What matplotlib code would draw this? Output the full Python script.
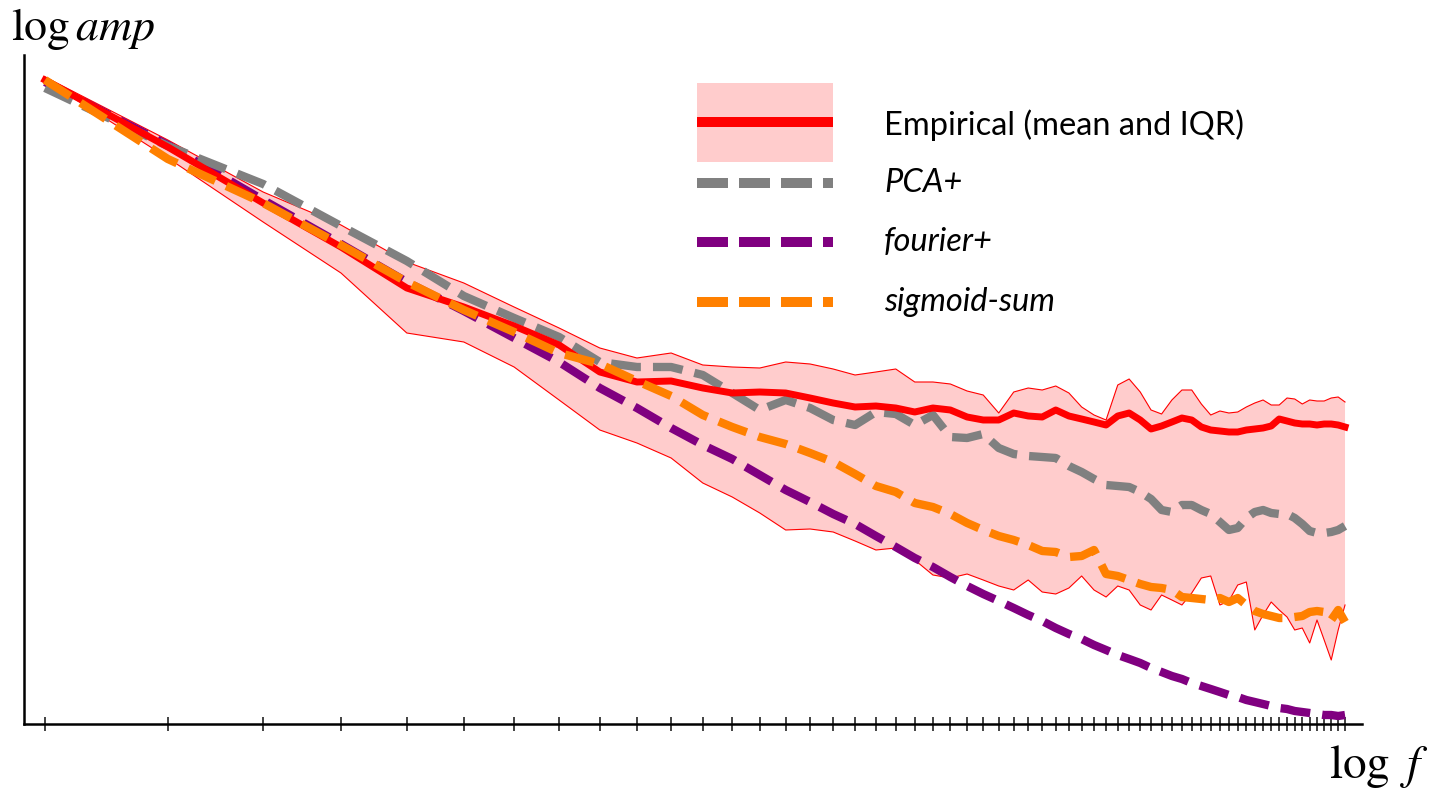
import numpy as np
import matplotlib.pyplot as plt
from matplotlib.patches import Rectangle
from matplotlib.lines import Line2D

plt.rcParams['mathtext.fontset'] = 'stix'

# frequencies shown on the log axis
freqs = list(range(3, 64))

# empirical spectrum: mean and interquartile range
emp_mean = [6.44, 5.77, 5.21, 4.77, 4.36, 4.17, 3.98, 3.79, 3.52, 3.42, 3.43, 3.36,
            3.31, 3.32, 3.31, 3.26, 3.21, 3.17, 3.18, 3.16, 3.12, 3.16, 3.14, 3.07, 3.04, 3.04,
            3.11, 3.08, 3.07, 3.14, 3.08, 3.05, 3.02, 2.99, 3.08, 3.11, 3.04, 2.95, 2.98, 3.02, 3.06, 3.04, 2.97,
            2.94, 2.93, 2.92, 2.92, 2.94, 2.95, 2.96, 2.98, 3.05, 3.03, 3.01, 3.00, 3.00, 2.99, 3.00, 3.00, 2.99, 2.97]
emp_q75 = [6.47, 5.84, 5.32, 4.99, 4.62, 4.41, 4.17, 3.96, 3.76, 3.66, 3.71, 3.59,
           3.57, 3.56, 3.62, 3.60, 3.55, 3.49, 3.52, 3.55, 3.42, 3.42, 3.40, 3.33, 3.29, 3.11,
           3.32, 3.36, 3.34, 3.38, 3.31, 3.17, 3.09, 3.04, 3.39, 3.45, 3.32, 3.14, 3.10, 3.24, 3.34, 3.34, 3.20,
           3.09, 3.13, 3.11, 3.12, 3.17, 3.21, 3.24, 3.19, 3.19, 3.26, 3.25, 3.20, 3.24, 3.23, 3.23, 3.26, 3.27, 3.22]
emp_q25 = [6.44, 5.66, 5.02, 4.51, 3.91, 3.82, 3.57, 3.24, 2.94, 2.81, 2.66, 2.41,
           2.27, 2.11, 1.94, 1.95, 1.92, 1.83, 1.74, 1.76, 1.64, 1.49, 1.46, 1.50, 1.44, 1.38,
           1.34, 1.44, 1.32, 1.30, 1.36, 1.48, 1.34, 1.27, 1.38, 1.34, 1.19, 1.14, 1.29, 1.24, 1.19, 1.31, 1.46,
           1.48, 1.19, 1.23, 1.39, 1.42, 0.94, 1.09, 1.22, 1.14, 1.07, 0.94, 0.96, 0.81, 1.04, 0.84, 0.64, 0.94, 1.19]

# model spectra
pca_plus = [6.36, 5.78, 5.40, 4.98, 4.63, 4.28, 4.06, 3.87, 3.62, 3.57, 3.57, 3.49,
            3.31, 3.14, 3.24, 3.16, 3.04, 2.99, 3.12, 3.10, 2.99, 3.09, 2.87, 2.86, 2.90, 2.76,
            2.70, 2.68, 2.67, 2.66, 2.58, 2.52, 2.45, 2.39, 2.38, 2.37, 2.32, 2.25, 2.14, 2.12, 2.19, 2.19, 2.14,
            2.10, 2.02, 1.94, 1.96, 2.06, 2.12, 2.14, 2.11, 2.10, 2.10, 2.06, 2.00, 1.93, 1.91, 1.91, 1.92, 1.94, 1.98]
fourier_plus = [6.42, 5.79, 5.24, 4.80, 4.42, 4.13, 3.86, 3.62, 3.36, 3.16, 2.96, 2.79,
                2.65, 2.49, 2.34, 2.22, 2.10, 2.00, 1.88, 1.77, 1.66, 1.57, 1.47, 1.38, 1.30, 1.23,
                1.16, 1.09, 1.03, 0.96, 0.90, 0.85, 0.79, 0.74, 0.69, 0.65, 0.61, 0.56, 0.52, 0.48, 0.45, 0.41, 0.38,
                0.35, 0.32, 0.29, 0.27, 0.24, 0.22, 0.20, 0.18, 0.16, 0.15, 0.13, 0.12, 0.11, 0.10, 0.09, 0.09, 0.08, 0.09]
sigmoid_sum = [6.44, 5.65, 5.21, 4.79, 4.42, 4.14, 3.92, 3.71, 3.60, 3.43, 3.28, 3.09,
               2.97, 2.87, 2.80, 2.71, 2.62, 2.50, 2.38, 2.32, 2.21, 2.17, 2.10, 2.01, 1.94, 1.88,
               1.84, 1.79, 1.73, 1.72, 1.67, 1.68, 1.74, 1.50, 1.48, 1.44, 1.40, 1.37, 1.36, 1.34, 1.27, 1.26, 1.25,
               1.24, 1.26, 1.22, 1.26, 1.19, 1.13, 1.10, 1.08, 1.06, 1.06, 1.07, 1.08, 1.12, 1.13, 1.12, 1.04, 1.14, 1.02]

W, H = 1444, 788
fig = plt.figure(figsize=(W / 100, H / 100), dpi=100)
ax = fig.add_axes([24 / W, 64 / H, 1338 / W, 669 / H])

x = np.log(freqs)
px = 427.0  # pixels per unit of log f
ax.set_xlim(x[0] - 21 / px, x[0] + 1317 / px)
ax.set_ylim(0, 6.69)

ax.fill_between(x, emp_q25, emp_q75, facecolor='#ffcccc', edgecolor='none', zorder=1)
ax.plot(x, emp_q75, color='#ff0000', lw=0.8, zorder=2)
ax.plot(x, emp_q25, color='#ff0000', lw=0.8, zorder=2)

ax.plot(x, fourier_plus, color='#800080', lw=6, dashes=(3.6, 1.45), zorder=3)
ax.plot(x, pca_plus, color='#808080', lw=6, dashes=(3.6, 1.45), zorder=4)
ax.plot(x, emp_mean, color='#ff0000', lw=5, zorder=5, solid_joinstyle='round')
ax.plot(x, sigmoid_sum, color='#ff8000', lw=6, dashes=(3.6, 1.45), zorder=6)

for s in ['top', 'right']:
    ax.spines[s].set_visible(False)
for s in ['left', 'bottom']:
    ax.spines[s].set_linewidth(1.8)
ax.set_yticks([])
ax.set_xticks(x)
ax.set_xticklabels([])
ax.tick_params(axis='x', direction='inout', length=10, width=1.2, color='#222222')

# axis labels
fig.text(11 / W, 1 - 40 / H, r'$\log amp$', fontsize=33, ha='left', va='baseline')
fig.text(1329 / W, 1 - 778 / H, r'$\log\ f$', fontsize=34, ha='left', va='baseline')

# legend
def fy(p):
    return 1 - p / H

fig.add_artist(Rectangle((697 / W, fy(162)), 136 / W, 79 / H, transform=fig.transFigure,
                         facecolor='#ffcccc', edgecolor='none'))
fig.add_artist(Line2D([697 / W, 833 / W], [fy(122)] * 2, transform=fig.transFigure,
                      color='#ff0000', lw=7.2, solid_capstyle='butt'))
leg = [('#808080', 183, 'PCA+'), ('#800080', 242, 'fourier+'), ('#ff8000', 302, 'sigmoid-sum')]
for col, yp, lab in leg:
    fig.add_artist(Line2D([697 / W, 833 / W], [fy(yp)] * 2, transform=fig.transFigure,
                          color=col, lw=7.2, dashes=(3.1, 1.1)))
    fig.text(884 / W, fy(yp), lab, fontsize=23.5, family='Lato', style='italic', va='center')
fig.text(884 / W, fy(125), 'Empirical (mean and IQR)', fontsize=23.5, family='Lato', va='center')

fig.savefig('out.png', dpi=100)
